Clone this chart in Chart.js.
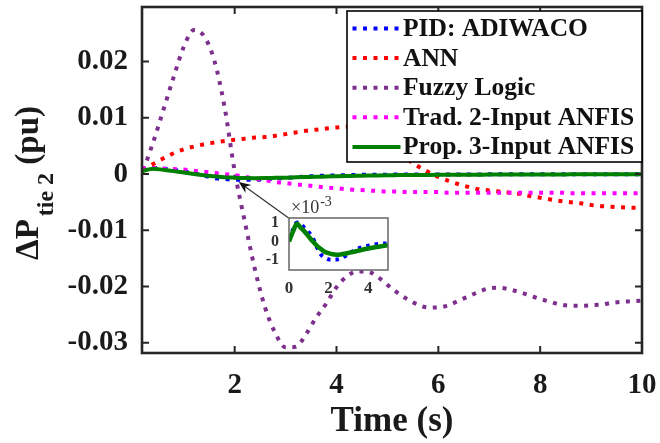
<!DOCTYPE html>
<html>
<head>
<meta charset="utf-8">
<script src="https://cdn.jsdelivr.net/npm/chart.js@4.4.1/dist/chart.umd.min.js"></script>
<style>
html, body { margin: 0; padding: 0; background: #fff; }
#wrap { position: relative; width: 660px; height: 443px; }
#main { position: absolute; left: 0; top: 0; }
#inset { position: absolute; }
</style>
</head>
<body>
<div id="wrap">
	<canvas id="main" width="660" height="443"></canvas>
	<canvas id="inset"></canvas>
</div>
<script>
// time axis (s)
var time = [0, 0.2, 0.4, 0.6, 0.8, 1.0, 1.2, 1.4, 1.6, 1.8,
	2.0, 2.2, 2.4, 2.6, 2.8, 3.0, 3.2, 3.4, 3.6, 3.8,
	4.0, 4.2, 4.4, 4.6, 4.8, 5.0, 5.2, 5.4, 5.6, 5.8,
	6.0, 6.2, 6.4, 6.6, 6.8, 7.0, 7.2, 7.4, 7.6, 7.8,
	8.0, 8.2, 8.4, 8.6, 8.8, 9.0, 9.2, 9.4, 9.6, 9.8, 10.0];

// delta P tie 2 (pu) per controller
var pidAdiwaco = [0.00010, 0.00065, 0.00105, 0.00095, 0.00072, 0.00050, 0.00020, -0.00029, -0.00070, -0.00088,
	-0.00098, -0.00100, -0.00099, -0.00094, -0.00082, -0.00068, -0.00055, -0.00043, -0.00034, -0.00027,
	-0.00023, -0.00019, -0.00015, -0.00013, -0.00011, -0.00010, -0.00009, -0.00009, -0.00008, -0.00008,
	-0.00007, -0.00007, -0.00006, -0.00006, -0.00006, -0.00005, -0.00005, -0.00005, -0.00004, -0.00004,
	-0.00004, -0.00004, -0.00003, -0.00003, -0.00003, -0.00003, -0.00003, -0.00002, -0.00002, -0.00002, -0.00002];

var ann = [0.0000, 0.0009, 0.0018, 0.0028, 0.0037, 0.0044, 0.0049, 0.0053, 0.0056, 0.0059,
	0.0061, 0.0063, 0.0065, 0.0066, 0.0068, 0.0071, 0.0074, 0.0077, 0.0079, 0.0081,
	0.0083, 0.0084, 0.0084, 0.0081, 0.0072, 0.0058, 0.0042, 0.0026, 0.0014, 0.0004,
	-0.0005, -0.0012, -0.0018, -0.0023, -0.0027, -0.0029, -0.0031, -0.0033, -0.0035, -0.0039,
	-0.0042, -0.0045, -0.0048, -0.0050, -0.0052, -0.0055, -0.0057, -0.0058, -0.0059, -0.0060, -0.0060];

var fuzzy = [0.0000, 0.0010, 0.0057, 0.0114, 0.0172, 0.0226, 0.0256, 0.0245, 0.0202, 0.0120,
	0.0005, -0.0085, -0.0170, -0.0238, -0.0283, -0.0308, -0.0307, -0.0285, -0.0255, -0.0230,
	-0.0201, -0.0182, -0.0173, -0.0173, -0.0182, -0.0197, -0.0211, -0.0223, -0.0232, -0.0237,
	-0.0237, -0.0233, -0.0225, -0.0217, -0.0209, -0.0203, -0.0202, -0.0205, -0.0210, -0.0216,
	-0.0222, -0.0227, -0.0232, -0.0234, -0.0234, -0.0233, -0.0232, -0.0229, -0.0227, -0.0226, -0.0225];

var trad2Anfis = [0.0000, 0.0011, 0.0011, 0.0010, 0.0009, 0.0008, 0.0006, 0.0004, 0.0002, 0.0000,
	-0.0002, -0.0005, -0.0008, -0.0011, -0.0014, -0.0016, -0.0018, -0.0020, -0.0022, -0.0024,
	-0.0025, -0.0027, -0.0028, -0.0029, -0.0030, -0.0031, -0.0031, -0.0032, -0.0032, -0.0032,
	-0.0032, -0.0033, -0.0033, -0.0033, -0.0033, -0.0033, -0.0033, -0.0033, -0.0033, -0.0033,
	-0.0033, -0.0033, -0.0033, -0.0034, -0.0034, -0.0034, -0.0034, -0.0034, -0.0034, -0.0034, -0.0034];

var prop3Anfis = [0.00000, 0.00055, 0.00097, 0.00075, 0.00053, 0.00027, 0.00001, -0.00022, -0.00040, -0.00056,
	-0.00064, -0.00070, -0.00072, -0.00071, -0.00067, -0.00063, -0.00058, -0.00053, -0.00048, -0.00042,
	-0.00038, -0.00034, -0.00030, -0.00027, -0.00023, -0.00020, -0.00018, -0.00016, -0.00015, -0.00014,
	-0.00013, -0.00012, -0.00011, -0.00011, -0.00010, -0.00009, -0.00009, -0.00008, -0.00008, -0.00007,
	-0.00007, -0.00006, -0.00006, -0.00005, -0.00005, -0.00005, -0.00004, -0.00004, -0.00004, -0.00003, -0.00003];

var seriesNames = ['PID: ADIWACO', 'ANN', 'Fuzzy Logic', 'Trad. 2-Input ANFIS', 'Prop. 3-Input ANFIS'];

var xTicks = [2, 4, 6, 8, 10];
var yTicks = [-0.03, -0.02, -0.01, 0, 0.01, 0.02];
var insetXTicks = [0, 2, 4];
var insetYTicks = [-1, 0, 1];

// layout bits
var FONT = "'Liberation Serif', 'Times New Roman', serif";
var INK = '#1a1a1a';
var insetBox = { t0: 3.06, t1: 5.0, v0: -0.0171, v1: -0.0078 };
var arrowTip = { x: 2.08, y: -0.0014 };

const toXY = (vals, scale) => time.map((t, i) => ({ x: t, y: vals[i] * (scale || 1) }));

const dotted = (label, color, vals, order) => ({
	label: label,
	data: toXY(vals),
	borderColor: color,
	borderWidth: 4,
	borderDash: [4, 6.5],
	borderCapStyle: 'butt',
	pointRadius: 0,
	fill: false,
	cubicInterpolationMode: 'monotone',
	order: order
});

// kill the label overhang padding so the plot box lands where we want it
const noPadX = (h) => (s) => { s.height = h; s.paddingLeft = 0; s.paddingRight = 0; };
const noPadY = (w) => (s) => { s.width = w; s.paddingTop = 0; s.paddingBottom = 0; };

// inward ticks on all four sides + box
const framePlugin = {
	id: 'frame',
	beforeDatasetsDraw(chart, args, opts) {
		if (!opts.fill) return;
		const a = chart.chartArea;
		chart.ctx.save();
		chart.ctx.fillStyle = opts.fill;
		chart.ctx.fillRect(a.left, a.top, a.width, a.height);
		chart.ctx.restore();
	},
	afterDatasetsDraw(chart, args, opts) {
		const { ctx, chartArea: a, scales: { x, y } } = chart;
		const len = opts.tickLen || 0;
		ctx.save();
		ctx.strokeStyle = opts.color;
		if (len > 0) {
			ctx.lineWidth = opts.tickWidth;
			ctx.beginPath();
			x.ticks.forEach(t => {
				const px = x.getPixelForValue(t.value);
				ctx.moveTo(px, a.bottom); ctx.lineTo(px, a.bottom - len);
				ctx.moveTo(px, a.top); ctx.lineTo(px, a.top + len);
			});
			y.ticks.forEach(t => {
				const py = y.getPixelForValue(t.value);
				ctx.moveTo(a.left, py); ctx.lineTo(a.left + len, py);
				ctx.moveTo(a.right, py); ctx.lineTo(a.right - len, py);
			});
			ctx.stroke();
		}
		ctx.lineWidth = opts.width;
		ctx.strokeRect(a.left, a.top, a.width, a.height);
		ctx.restore();
	}
};

// legend box in the top right corner, plus y label and arrow
const extrasPlugin = {
	id: 'extras',
	afterDraw(chart) {
		const { ctx, chartArea: a, scales: { x, y } } = chart;
		ctx.save();

		// arrow to the zoomed region
		const tipX = x.getPixelForValue(arrowTip.x), tipY = y.getPixelForValue(arrowTip.y);
		const tailX = x.getPixelForValue(insetBox.t0), tailY = y.getPixelForValue(insetBox.v1);
		const ang = Math.atan2(tipY - tailY, tipX - tailX);
		ctx.strokeStyle = '#333';
		ctx.lineWidth = 1.2;
		ctx.beginPath();
		ctx.moveTo(tailX, tailY);
		ctx.lineTo(tipX - 8 * Math.cos(ang), tipY - 8 * Math.sin(ang));
		ctx.stroke();
		ctx.fillStyle = '#111';
		ctx.beginPath();
		ctx.moveTo(tipX, tipY);
		ctx.lineTo(tipX - 12 * Math.cos(ang) + 5 * Math.sin(ang), tipY - 12 * Math.sin(ang) - 5 * Math.cos(ang));
		ctx.lineTo(tipX - 8 * Math.cos(ang), tipY - 8 * Math.sin(ang));
		ctx.lineTo(tipX - 12 * Math.cos(ang) - 5 * Math.sin(ang), tipY - 12 * Math.sin(ang) + 5 * Math.cos(ang));
		ctx.closePath();
		ctx.fill();

		// legend
		const boxW = 295, boxH = 151;
		const bx = a.right - boxW, by = a.top + 4;
		ctx.fillStyle = '#fff';
		ctx.fillRect(bx, by, boxW, boxH);
		ctx.strokeStyle = '#000';
		ctx.lineWidth = 1.6;
		ctx.strokeRect(bx, by, boxW, boxH);
		ctx.font = 'bold 25.5px ' + FONT;
		ctx.textBaseline = 'middle';
		ctx.textAlign = 'left';
		chart.data.datasets.forEach((ds, i) => {
			const ry = by + 17.5 + i * 29.6;
			ctx.strokeStyle = ds.borderColor;
			ctx.lineWidth = ds.borderWidth;
			ctx.lineCap = 'butt';
			ctx.setLineDash(ds.borderDash || []);
			ctx.beginPath();
			ctx.moveTo(bx + 5.5, ry);
			ctx.lineTo(bx + 53.5, ry);
			ctx.stroke();
			ctx.setLineDash([]);
			ctx.fillStyle = '#111';
			ctx.fillText(ds.label, bx + 56, ry + 1);
		});

		// y axis title with subscript
		const parts = [
			{ text: '\u0394P', font: 'bold 33px ' + FONT, dy: 0, gap: 3 },
			{ text: 'tie 2', font: 'bold 24px ' + FONT, dy: 15, gap: 0 },
			{ text: ' (pu)', font: 'bold 33px ' + FONT, dy: 0, gap: 0 }
		];
		let total = 0;
		parts.forEach(p => { ctx.font = p.font; p.w = ctx.measureText(p.text).width; total += p.w + p.gap; });
		ctx.translate(38, (a.top + a.bottom) / 2 + 3);
		ctx.rotate(-Math.PI / 2);
		ctx.textBaseline = 'alphabetic';
		ctx.fillStyle = INK;
		let cx = -total / 2;
		parts.forEach(p => {
			ctx.font = p.font;
			ctx.fillText(p.text, cx, p.dy);
			cx += p.w + p.gap;
		});
		ctx.restore();
	}
};

const mainChart = new Chart(document.getElementById('main'), {
	type: 'line',
	data: {
		datasets: [
			dotted(seriesNames[0], '#0000ff', pidAdiwaco, 5),
			dotted(seriesNames[1], '#ff0000', ann, 4),
			dotted(seriesNames[2], '#7e2f8e', fuzzy, 3),
			dotted(seriesNames[3], '#ff00ff', trad2Anfis, 2),
			{
				label: seriesNames[4],
				data: toXY(prop3Anfis),
				borderColor: '#008000',
				borderWidth: 4,
				pointRadius: 0,
				fill: false,
				cubicInterpolationMode: 'monotone',
				order: 1
			}
		]
	},
	options: {
		responsive: false,
		animation: false,
		devicePixelRatio: 1,
		layout: { padding: { top: 7, right: 18, left: 0, bottom: 0 } },
		plugins: {
			legend: { display: false },
			tooltip: { enabled: false },
			frame: { color: '#262626', width: 2.6, tickLen: 7, tickWidth: 2 }
		},
		scales: {
			x: {
				type: 'linear',
				min: 0.18,
				max: 10,
				afterBuildTicks: (s) => { s.ticks = xTicks.map(v => ({ value: v })); },
				afterFit: noPadX(90),
				grid: { display: false, drawTicks: false },
				border: { display: false },
				ticks: {
					autoSkip: false,
					maxRotation: 0,
					padding: 15,
					color: INK,
					font: { family: FONT, size: 29, weight: 'bold' }
				},
				title: {
					display: true,
					text: 'Time (s)',
					color: INK,
					padding: { top: 0, bottom: 0 },
					font: { family: FONT, size: 35, weight: 'bold' }
				}
			},
			y: {
				type: 'linear',
				min: -0.0318,
				max: 0.0297,
				afterBuildTicks: (s) => { s.ticks = yTicks.map(v => ({ value: v })); },
				afterFit: noPadY(142),
				grid: { display: false, drawTicks: false },
				border: { display: false },
				ticks: {
					autoSkip: false,
					padding: 14,
					color: INK,
					font: { family: FONT, size: 29, weight: 'bold' },
					callback: (v) => String(v)
				}
			}
		}
	},
	plugins: [framePlugin, extrasPlugin]
});

// zoomed inset, placed over the main chart's data coordinates
const mx = mainChart.scales.x, my = mainChart.scales.y;
const inL = mx.getPixelForValue(insetBox.t0), inR = mx.getPixelForValue(insetBox.t1);
const inT = my.getPixelForValue(insetBox.v1), inB = my.getPixelForValue(insetBox.v0);
const padL = 30, padT = 26, padR = 6, padB = 28;
const insetCanvas = document.getElementById('inset');
insetCanvas.width = Math.round(inR - inL + padL + padR);
insetCanvas.height = Math.round(inB - inT + padT + padB);
insetCanvas.style.left = (inL - padL) + 'px';
insetCanvas.style.top = (inT - padT) + 'px';

const exponentPlugin = {
	id: 'exponent',
	afterDraw(chart) {
		const { ctx, chartArea: a } = chart;
		ctx.save();
		ctx.fillStyle = '#333';
		ctx.textBaseline = 'alphabetic';
		ctx.font = '18px ' + FONT;
		const base = '\u00d710';
		ctx.fillText(base, a.left + 2, a.top - 5);
		const w = ctx.measureText(base).width;
		ctx.font = '14px ' + FONT;
		ctx.fillText('-3', a.left + 3 + w, a.top - 12);
		ctx.restore();
	}
};

new Chart(insetCanvas, {
	type: 'line',
	data: {
		datasets: [
			{
				data: toXY(pidAdiwaco, 1000),
				borderColor: '#0000ff',
				borderWidth: 4,
				borderDash: [3.5, 5],
				borderCapStyle: 'butt',
				pointRadius: 0,
				cubicInterpolationMode: 'monotone',
				order: 2
			},
			{
				data: toXY(prop3Anfis, 1000),
				borderColor: '#008000',
				borderWidth: 4.5,
				pointRadius: 0,
				cubicInterpolationMode: 'monotone',
				order: 1
			}
		]
	},
	options: {
		responsive: false,
		animation: false,
		devicePixelRatio: 1,
		layout: { padding: { top: padT, right: padR, left: 0, bottom: 0 } },
		plugins: {
			legend: { display: false },
			tooltip: { enabled: false },
			frame: { color: '#666666', width: 1.5, tickLen: 0, fill: '#ffffff' }
		},
		scales: {
			x: {
				type: 'linear',
				min: 0,
				max: 5,
				afterBuildTicks: (s) => { s.ticks = insetXTicks.map(v => ({ value: v })); },
				afterFit: noPadX(padB),
				grid: { display: false, drawTicks: false },
				border: { display: false },
				ticks: {
					autoSkip: false, maxRotation: 0, padding: 8, color: '#333',
					font: { family: FONT, size: 17, weight: 'bold' }
				}
			},
			y: {
				type: 'linear',
				min: -1.56,
				max: 1.29,
				afterBuildTicks: (s) => { s.ticks = insetYTicks.map(v => ({ value: v })); },
				afterFit: noPadY(padL),
				grid: { display: false, drawTicks: false },
				border: { display: false },
				ticks: {
					autoSkip: false, padding: 10, color: '#333',
					font: { family: FONT, size: 16, weight: 'bold' },
					callback: (v) => String(v)
				}
			}
		}
	},
	plugins: [framePlugin, exponentPlugin]
});
</script>
</body>
</html>
